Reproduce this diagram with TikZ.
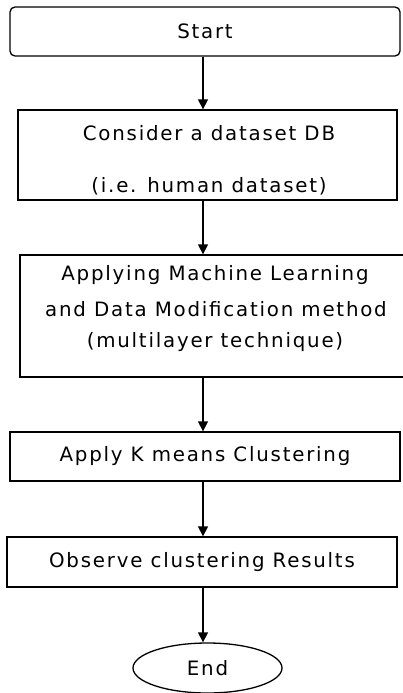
\documentclass[tikz,border=0pt]{standalone}
\usepackage{fontspec}
\setmainfont{DejaVu Sans}
\newfontfamily\flowfont[LetterSpace=9]{DejaVu Sans}
\usetikzlibrary{shapes.geometric,arrows.meta}
\begin{document}
\begin{tikzpicture}[x=1pt,y=-1pt,
  box/.style={draw=black,line width=1.3pt,inner sep=0pt,font=\flowfont\fontsize{19.8}{22}\selectfont},
  conn/.style={draw=black,line width=1.3pt,-{Triangle[width=10pt,length=10pt]}},
  txt/.style={font=\flowfont\fontsize{19.8}{22}\selectfont,inner sep=0pt}]
\useasboundingbox (0,0) rectangle (403,693);
\fill[white] (0,0) rectangle (403,693);
% boxes
\node[box,rounded corners=5pt,minimum width=390pt,minimum height=49pt] (start) at (205,31.5) {Start};
\node[box,minimum width=379pt,minimum height=90pt] (consider) at (207.5,155) {};
\node[txt] (c1) at (209,133) {Consider a dataset DB};
\node[txt] (c2) at (209,186) {(i.e. human dataset)};
\node[box,minimum width=385pt,minimum height=122pt] (apply) at (212.5,316) {};
\node[txt] (a1) at (215,275) {Applying Machine Learning};
\node[txt] (a2) at (216,309) {and Data Modification method};
\node[txt] (a3) at (215,342) {(multilayer technique)};
\node[box,minimum width=390pt,minimum height=49pt] (kmeans) at (205,456.5) {Apply K means Clustering};
\node[box,minimum width=390pt,minimum height=50pt] (observe) at (202,562) {Observe clustering Results};
\node[box,ellipse,minimum width=149pt,minimum height=50pt] (end) at (207.5,668) {End};
% connectors
\coordinate (s1) at (203,56);
\draw[conn] (start.south -| s1) -- (consider.north -| s1);
\draw[conn] (consider.south -| s1) -- (apply.north -| s1);
\draw[conn] (apply.south -| s1) -- (kmeans.north -| s1);
\draw[conn] (kmeans.south -| s1) -- (observe.north -| s1);
\draw[conn] (observe.south -| s1) -- (end.north -| s1);
\end{tikzpicture}
\end{document}
